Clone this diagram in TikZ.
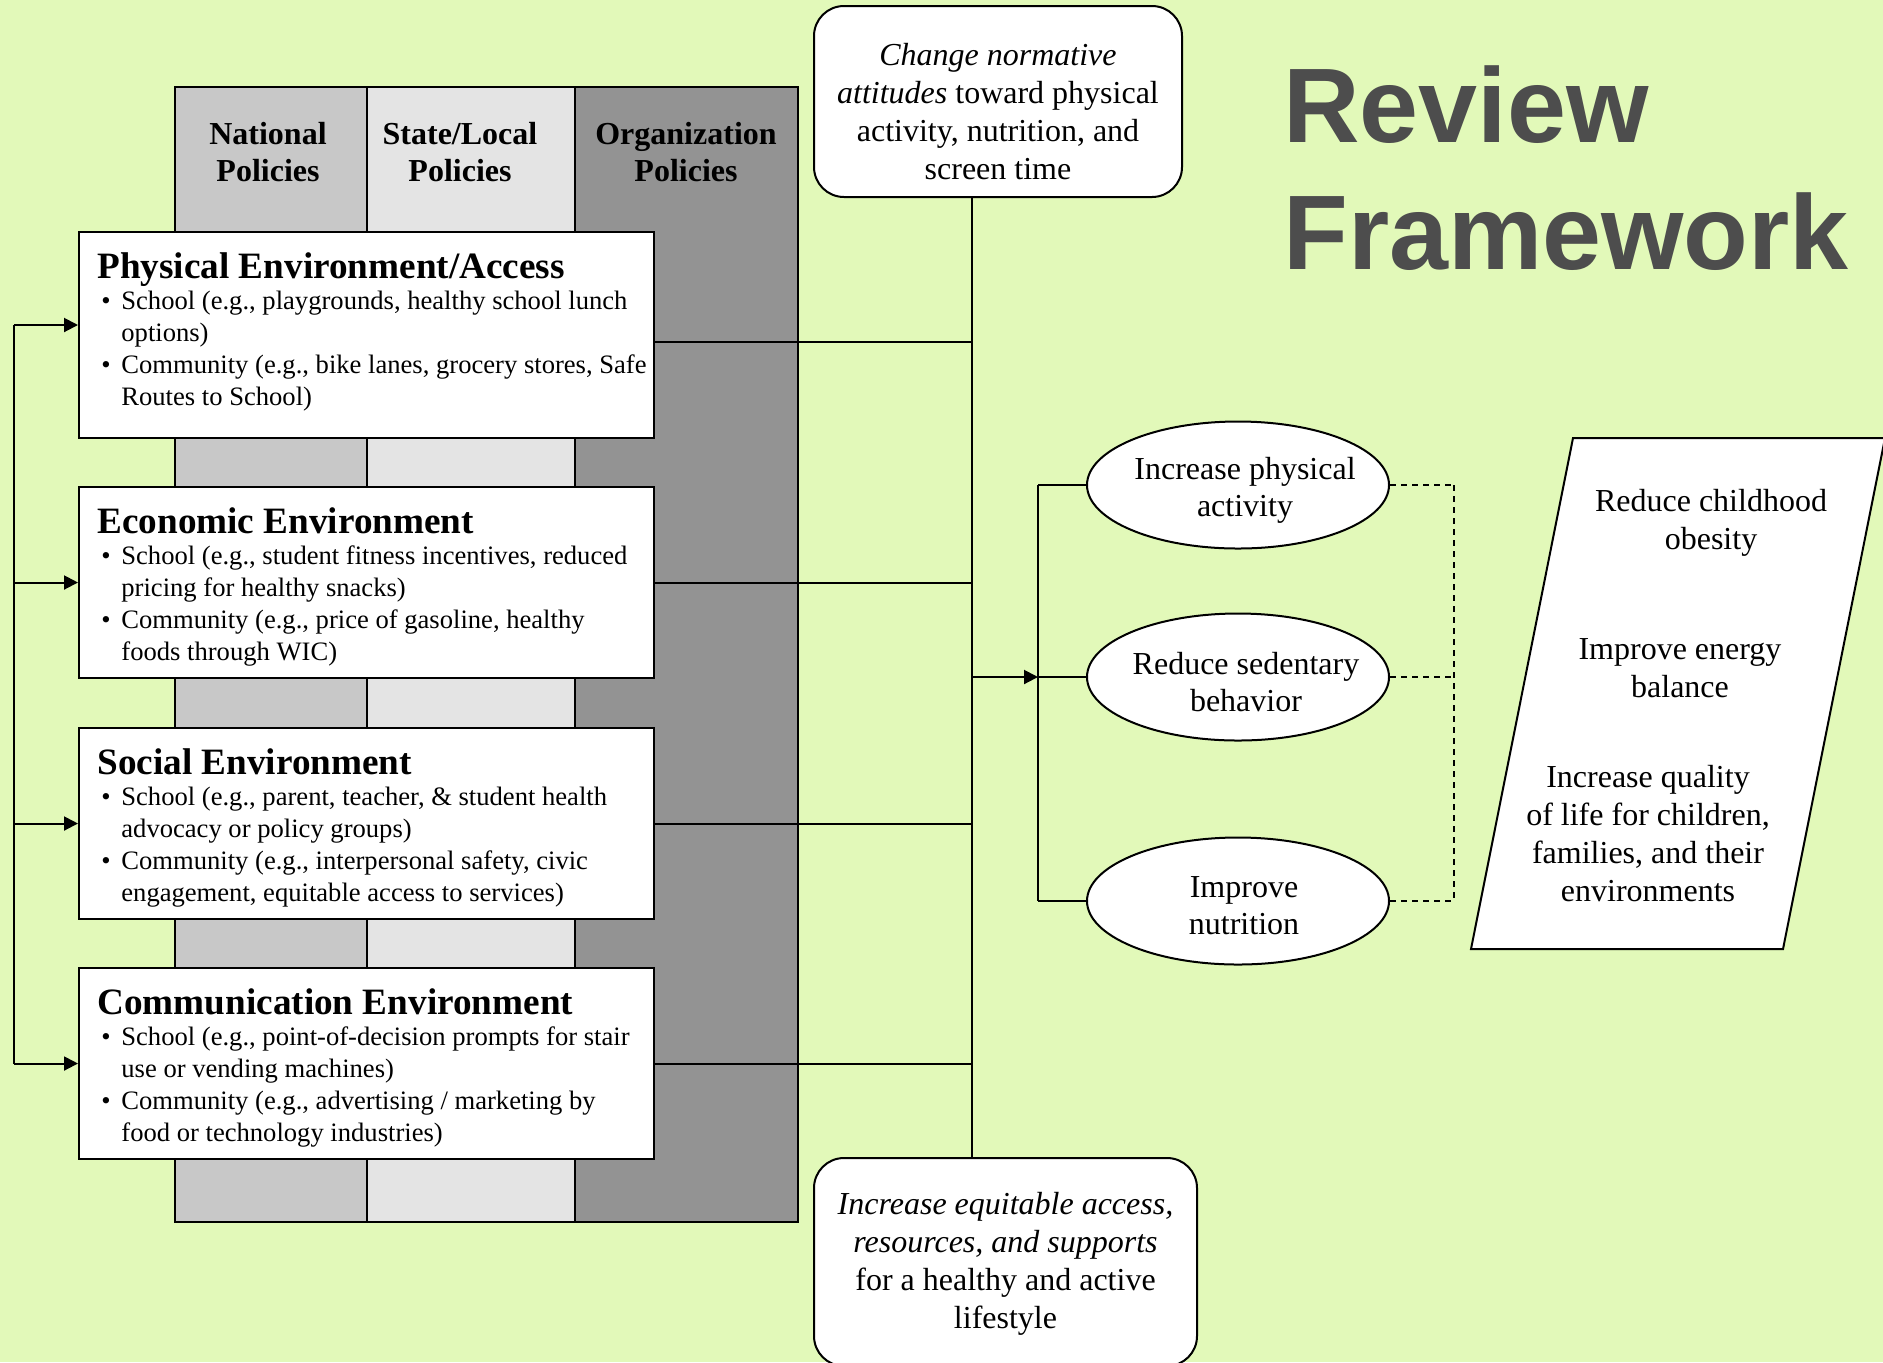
\documentclass[tikz,border=0pt]{standalone}
\usepackage{fontspec}
\setmainfont{Liberation Serif}
\newfontfamily\titlefont{Liberation Sans}
\usetikzlibrary{arrows.meta,shapes.geometric}

\definecolor{bggreen}{RGB}{226,249,185}
\definecolor{natgray}{RGB}{200,200,200}
\definecolor{stategray}{RGB}{228,228,228}
\definecolor{orggray}{RGB}{147,147,147}
\definecolor{titlegray}{RGB}{77,77,77}

\newcommand{\bul}{\hspace*{2pt}\makebox[10pt][l]{\textbullet}}
\newcommand{\ind}{\hspace*{12pt}}
\newcommand{\envhead}[1]{{\bfseries\fontsize{18.6}{20}\selectfont #1}\\[-0.3pt]}

\tikzset{
  envbox/.style={draw,line width=1pt,fill=white,minimum width=287.5pt,anchor=north west,inner sep=0pt},
  envtext/.style={align=left,anchor=north west,inner sep=0pt,font=\fontsize{13.3}{16}\selectfont},
  tactic/.style={draw,line width=1pt,fill=white,rounded corners=15pt,inner sep=0pt},
  tactictext/.style={align=center,inner sep=0pt,font=\fontsize{16}{19}\selectfont},
  goal/.style={ellipse,draw,line width=1pt,fill=white,minimum width=151pt,minimum height=63.5pt,inner sep=0pt},
  goaltext/.style={align=center,inner sep=0pt,font=\fontsize{16}{18.6}\selectfont},
}

\begin{document}
\begin{tikzpicture}[x=0.5pt,y=-0.5pt]
\fill[bggreen] (0,0) rectangle (1883,1362);
\useasboundingbox (0,0) rectangle (1883,1362);
\clip (0,0) rectangle (1883,1362);

% policy columns
\begin{scope}[every node/.style={draw,line width=1pt,minimum height=567.5pt,anchor=north west,inner sep=0pt}]
    \node[fill=natgray,minimum width=96pt] (natcol) at (174,86) {};
    \node[fill=stategray,minimum width=104pt] (statecol) at (366,86) {};
    \node[fill=orggray,minimum width=111.5pt] (orgcol) at (574,86) {};
\end{scope}

\begin{scope}[every node/.style={align=center,inner sep=0pt,font=\bfseries\fontsize{16}{18.6}\selectfont}]
    \node (nathead) at (268,152) {National\\Policies};
    \node (statehead) at (460,152) {State/Local\\Policies};
    \node (orghead) at (686,152) {Organization\\Policies};
\end{scope}

% environments
\node[envbox,minimum height=103pt] (phys) at (78,231) {};
\node[envbox,minimum height=95.5pt] (econ) at (78,486) {};
\node[envbox,minimum height=95.5pt] (soc) at (78,727) {};
\node[envbox,minimum height=95.5pt] (comm) at (78,967) {};

\node[envtext] (physT) at ([xshift=9.5pt,yshift=-10.5pt]phys.north west) {\envhead{Physical Environment/Access}
    \bul School (e.g., playgrounds, healthy school lunch\\
    \ind options)\\
    \bul Community (e.g., bike lanes, grocery stores, Safe\\
    \ind Routes to School)};
\node[envtext] (econT) at ([xshift=9.5pt,yshift=-10.5pt]econ.north west) {\envhead{Economic Environment}
    \bul School (e.g., student fitness incentives, reduced\\
    \ind pricing for healthy snacks)\\
    \bul Community (e.g., price of gasoline, healthy\\
    \ind foods through WIC)};
\node[envtext] (socT) at ([xshift=9.5pt,yshift=-10.5pt]soc.north west) {\envhead{Social Environment}
    \bul School (e.g., parent, teacher, \& student health\\
    \ind advocacy or policy groups)\\
    \bul Community (e.g., interpersonal safety, civic\\
    \ind engagement, equitable access to services)};
\node[envtext] (commT) at ([xshift=9.5pt,yshift=-10.5pt]comm.north west) {\envhead{Communication Environment}
    \bul School (e.g., point-of-decision prompts for stair\\
    \ind use or vending machines)\\
    \bul Community (e.g., advertising / marketing by\\
    \ind food or technology industries)};

% tactics
\node[tactic,minimum width=184pt,minimum height=95.5pt] (attitude) at (998,101.5) {};
\node[tactic,minimum width=191.5pt,minimum height=104pt] (access) at (1005.5,1262) {};
\node[tactictext] (attitudeT) at ([yshift=-5pt]attitude.center)
    {\textit{Change normative}\\\textit{attitudes} toward physical\\activity, nutrition, and\\screen time};
\node[tactictext] (accessT) at ([yshift=-1pt]access.center)
    {\textit{Increase equitable access,}\\\textit{resources, and supports}\\for a healthy and active\\lifestyle};

% behaviours
\node[goal] (pa) at (1238,485) {};
\node[goal] (sed) at (1238,677) {};
\node[goal] (nut) at (1238,901) {};
\node[goaltext] (paT) at ([xshift=3.5pt,yshift=-2.5pt]pa.center) {Increase physical\\activity};
\node[goaltext] (sedT) at ([xshift=4pt,yshift=-2.5pt]sed.center) {Reduce sedentary\\behavior};
\node[goaltext] (nutT) at ([xshift=3pt,yshift=-2.5pt]nut.center) {Improve\\nutrition};

% outcomes
\draw[line width=1pt,fill=white] (1573,438) -- (1885,438) -- (1783,949) -- (1471,949) -- cycle;
\begin{scope}[every node/.style={align=center,inner sep=0pt,font=\fontsize{16}{19}\selectfont}]
    \node (obesity) at (1711,523) {Reduce childhood\\obesity};
    \node (energy) at (1680,668) {Improve energy\\balance};
    \node (quality) at (1648,834) {Increase quality\\of life for children,\\families, and their\\environments};
\end{scope}

% title
\begin{scope}[every node/.style={anchor=base west,inner sep=0pt,text=titlegray,font=\titlefont\bfseries\fontsize{53}{63}\selectfont}]
    \node (title1) at (1283,142) {Review};
    \node (title2) at (1283,269) {Framework};
\end{scope}

% connectors
\coordinate (loop) at (14,677);
\coordinate (spine) at (972,677);
\coordinate (bracket) at (1038,677);
\coordinate (merge) at (1454,677);

\begin{scope}[>={Triangle[length=7pt,width=7pt]},
              every edge/.style={draw,line width=1pt}]
    \path [-] ([yshift=5pt]phys.west -| loop) edge (comm.west -| loop);
    \path [->] ([yshift=5pt]phys.west -| loop) edge ([yshift=5pt]phys.west);
    \path [->] (econ.west -| loop) edge (econ.west);
    \path [->] (soc.west -| loop) edge (soc.west);
    \path [->] (comm.west -| loop) edge (comm.west);

    \path [-] ([yshift=-3.5pt]phys.east) edge ([yshift=-3.5pt]phys.east -| spine);
    \path [-] (econ.east) edge (econ.east -| spine);
    \path [-] (soc.east) edge (soc.east -| spine);
    \path [-] (comm.east) edge (comm.east -| spine);
    \path [-] (attitude.south -| spine) edge (access.north -| spine);

    \path [->] (spine) edge (bracket);
    \path [-] (pa.west -| bracket) edge (nut.west -| bracket);
    \path [-] (pa.west -| bracket) edge (pa.west);
    \path [-] (sed.west -| bracket) edge (sed.west);
    \path [-] (nut.west -| bracket) edge (nut.west);

    \path [-,dash pattern=on 3pt off 2.5pt] (pa.east) edge (pa.east -| merge);
    \path [-,dash pattern=on 3pt off 2.5pt] (sed.east) edge (sed.east -| merge);
    \path [-,dash pattern=on 3pt off 2.5pt] (nut.east) edge (nut.east -| merge);
    \path [-,dash pattern=on 3pt off 2.5pt] (pa.east -| merge) edge (nut.east -| merge);
\end{scope}
\end{tikzpicture}
\end{document}
